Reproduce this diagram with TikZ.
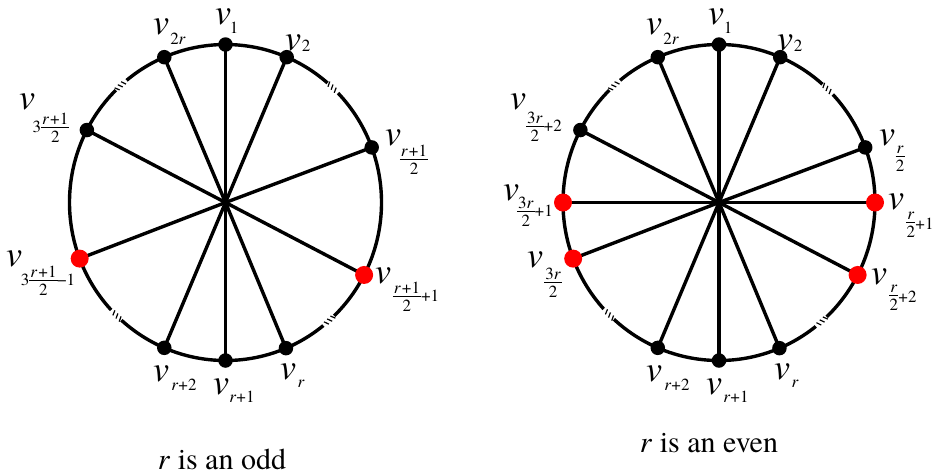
\documentclass[tikz,border=0pt]{standalone}
\usepackage{fontspec}
\setmainfont{texgyretermes}[Extension=.otf,UprightFont=*-regular,ItalicFont=*-italic,BoldFont=*-bold,BoldItalicFont=*-bolditalic]
\newcommand\vfont{\fontsize{36}{36}\selectfont\itshape}
\newcommand\sfnt{\fontsize{17}{17}\selectfont}
\newcommand\ffnt{\fontsize{17}{17}\selectfont}
\newcommand\fr[2]{\ensuremath{\vcenter{\offinterlineskip\halign{\hfil##\hfil\cr\hbox{\kern1pt#1\kern1pt}\cr\noalign{\kern2.5pt\hrule height0.8pt\kern3pt}\hbox{#2}\cr}}}}
\newcommand\ri{\textit{r}}
\tikzset{
  ring/.style={line width=3.4pt},
  spoke/.style={line width=3.4pt},
  bdot/.style={circle,fill=black,inner sep=0pt,minimum size=14.5pt},
  rdot/.style={circle,fill=red,inner sep=0pt,minimum size=18pt},
  vlab/.style={inner sep=0pt,font=\vfont},
  slab/.style={inner sep=0pt,font=\sfnt},
  flab/.style={inner sep=0pt,font=\ffnt},
  captxt/.style={inner sep=0pt,font=\fontsize{30}{30}\selectfont,anchor=base},
  gapw/.style={white,line width=5pt},
  tick/.style={black,line width=1.2pt}
}
\newcommand\gapmark[3]{% cx, cy, angle
  \draw[gapw] ({#1+156*cos(#3-2.6)},{#2-158*sin(#3-2.6)}) arc[x radius=156,y radius=-158,start angle=#3-2.6,end angle=#3+2.6];
  \foreach \k in {-1.6,0,1.6}{
    \draw[tick] ({#1+153.5*cos(#3+\k)},{#2-155.5*sin(#3+\k)}) -- ({#1+158.5*cos(#3+\k+0.8)},{#2-160.5*sin(#3+\k+0.8)});
  }
}
\begin{document}
\begin{tikzpicture}[x=1pt,y=-1pt]
\useasboundingbox (0,0) rectangle (934,475);
% ---------------- left wheel ----------------
\coordinate (Lc) at (225.5,202.5);
\draw[ring] (Lc) ellipse[x radius=156,y radius=158];
\gapmark{225.5}{202.5}{132}
\gapmark{225.5}{202.5}{46.5}
\gapmark{225.5}{202.5}{225.5}
\gapmark{225.5}{202.5}{-48.5}
\foreach \n/\a in {1/90,2/66.9,a/113.1,b/20.4,c/152.7,d/200.8,e/-27.3,f/246.9,g/270,h/-67.2}{
  \coordinate (Lp\n) at ({225.5+156*cos(\a)},{202.5-158*sin(\a)});
  \draw[spoke] (Lc) -- (Lp\n);
}
\foreach \n in {1,2,a,b,c,f,g,h}{ \node[bdot] (Lv\n) at (Lp\n) {}; }
\foreach \n in {d,e}{ \node[rdot] (Lv\n) at (Lp\n) {}; }
% labels left
\node[vlab] (Lt1) at (223,17) {v};   \node[slab] (Ls1) at (234,28) {1};
\node[vlab] (Lt2) at (293,43) {v};   \node[slab] (Ls2) at (306,46) {2};
\node[vlab] (Lta) at (161,27) {v};   \node[slab] (Lsa) at (178,39) {2\ri};
\node[vlab] (Ltc) at (27,102) {v};   \node[flab] (Lsc) at (51,128) {3\fr{\ri\kern1pt+1}{2}};
\node[vlab] (Ltb) at (393,138) {v};  \node[flab] (Lsb) at (414,160) {\fr{\ri\kern1pt+1}{2}};
\node[vlab] (Ltd) at (14,259) {v};   \node[flab] (Lsd) at (48,281) {3\fr{\ri\kern1pt+1}{2}\kern-0.5pt−1};
\node[vlab] (Lte) at (383,276) {v};  \node[flab] (Lse) at (416,297) {\fr{\ri\kern1pt+1}{2}+1};
\node[vlab] (Ltf) at (161,374) {v};  \node[slab] (Lsf) at (184,385) {\ri+2};
\node[vlab] (Ltg) at (221,387) {v};  \node[slab] (Lsg) at (242,397) {\ri+1};
\node[vlab] (Lth) at (288,372) {v};  \node[slab] (Lsh) at (301,384) {\ri};
\node[captxt] (Lcap) at (222,469) {\textit{r} is an odd};
% ---------------- right wheel ----------------
\coordinate (Rc) at (719,202.5);
\draw[ring] (Rc) ellipse[x radius=156,y radius=158];
\gapmark{719}{202.5}{132}
\gapmark{719}{202.5}{45.8}
\gapmark{719}{202.5}{225}
\gapmark{719}{202.5}{-49}
\foreach \n/\a in {1/90,2/66.9,a/113.1,b/20.4,c/152.7,i/180,j/0,d/200.8,e/-27.3,f/246.9,g/270,h/-67.2}{
  \coordinate (Rp\n) at ({719+156*cos(\a)},{202.5-158*sin(\a)});
}
\draw[spoke] (Rpi) -- (Rpj);
\foreach \n in {1,2,a,b,c,d,e,f,g,h}{ \draw[spoke] (Rc) -- (Rp\n); }
\foreach \n in {1,2,a,b,c,f,g,h}{ \node[bdot] (Rv\n) at (Rp\n) {}; }
\foreach \n in {i,j,d,e}{ \node[rdot] (Rv\n) at (Rp\n) {}; }
% labels right
\node[vlab] (Rt1) at (716,17) {v};   \node[slab] (Rs1) at (728,28) {1};
\node[vlab] (Rt2) at (785,43) {v};   \node[slab] (Rs2) at (798,46) {2};
\node[vlab] (Rta) at (654,27) {v};   \node[slab] (Rsa) at (671,39) {2\ri};
\node[vlab] (Rtc) at (518,102) {v};  \node[flab] (Rsc) at (544,127) {\fr{3\ri}{2}+2};
\node[vlab] (Rtb) at (887,138) {v};  \node[flab] (Rsb) at (900,159) {\fr{\ri}{2}};
\node[vlab] (Rti) at (511,193) {v};  \node[flab] (Rsi) at (535,212) {\fr{3\ri}{2}+1};
\node[vlab] (Rtj) at (896,202) {v};  \node[flab] (Rsj) at (920,225) {\fr{\ri}{2}+1};
\node[vlab] (Rtd) at (535,260) {v};  \node[flab] (Rsd) at (553,283) {\fr{3\ri}{2}};
\node[vlab] (Rte) at (879,277) {v};  \node[flab] (Rse) at (903,298) {\fr{\ri}{2}+2};
\node[vlab] (Rtf) at (654,374) {v};  \node[slab] (Rsf) at (677,385) {\ri+2};
\node[vlab] (Rtg) at (714,387) {v};  \node[slab] (Rsg) at (736,397) {\ri+1};
\node[vlab] (Rth) at (782,372) {v};  \node[slab] (Rsh) at (795,384) {\ri};
\node[captxt] (Rcap) at (709,452) {\textit{r} is an even};
\end{tikzpicture}
\end{document}
